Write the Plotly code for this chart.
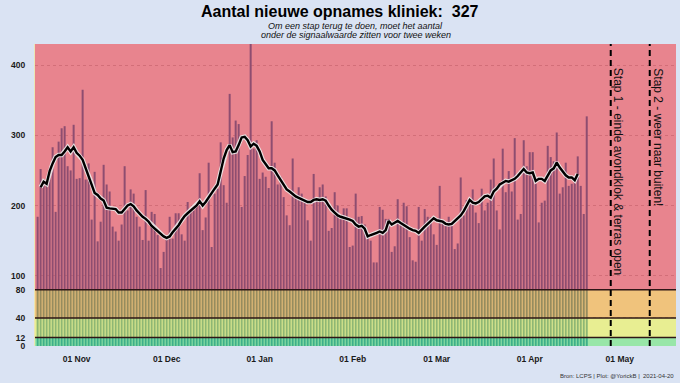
import pandas as pd
import plotly.graph_objects as go

# ---------------- data ----------------
FIRST_DAY = "2020-10-19"
admissions = [
    184, 252, 237, 232, 251, 283, 191, 291, 310, 313, 256, 250, 315, 238, 239, 365,
    237, 260, 180, 248, 149, 177, 258, 230, 220, 170, 163, 150, 173, 256, 193, 223,
    217, 184, 170, 151, 222, 150, 191, 188, 158, 111, 134, 155, 184,
    153, 189, 189, 159, 150, 205, 191, 193, 203, 246, 165, 183, 261, 141, 217, 224,
    290, 229, 204, 359, 297, 321, 316, 198, 242, 272, 431, 281, 293, 238, 247, 241,
    225, 320, 261, 230, 241, 212, 186, 172, 267, 213, 226, 217, 208, 179, 150,
    245, 210, 226, 230, 213, 164, 168, 219, 200, 186, 196, 196, 141, 143, 217, 184,
    185, 173, 155, 150, 119, 119, 198, 194, 181, 181, 134, 142, 209, 173, 204, 199,
    155, 122, 120, 198, 150, 195, 184, 183, 159, 144, 228, 177, 171,
    184, 174, 138, 146, 240, 186, 208, 210, 223, 190, 175, 224, 193, 204, 237, 267,
    193, 166, 281, 219, 249, 220, 296, 180, 188, 293, 256, 276, 276, 231, 176, 204,
    207, 285, 269, 263, 304, 217, 226, 261, 228, 231, 233, 270, 228, 188, 327,
]
avg7 = [
    None, 226, 234, 231, 249, 260, 269, 272, 272, 277, 283, 277, 283, 275, 271, 265,
    253, 244, 232, 218, 215, 210, 207, 197, 196, 196, 195, 190, 190, 195, 200, 202,
    199, 193, 188, 184, 181, 177, 171, 167, 164, 160, 156, 154, 156, 162,
    167, 172, 179, 185, 189, 193, 196, 200, 206, 200, 205, 212, 218, 224, 230, 248,
    267, 279, 286, 276, 277, 286, 297, 298, 293, 284, 288, 285, 277, 265, 259, 253,
    253, 250, 243, 236, 228, 223, 220, 216, 213, 211, 209, 207, 205, 205,
    208, 209, 208, 209, 207, 200, 194, 190, 186, 184, 183, 181, 180, 178, 173, 170,
    171, 167, 156, 158, 159, 161, 163, 161, 165, 178, 173, 175, 178, 175, 172, 170,
    167, 165, 164, 161, 166, 170, 174, 178, 182, 179, 178, 177, 174,
    173, 174, 178, 181, 186, 192, 199, 208, 204, 203, 205, 209, 213, 214, 211, 220,
    224, 230, 232, 235, 234, 236, 238, 242, 247, 252, 247, 246, 247, 235, 238, 238,
    235, 243, 250, 253, 261, 254, 248, 243, 240, 240, 236, 245, None, None, None,
]
thresholds = [12, 40, 80]
step_dates = ["2021-04-28", "2021-05-11"]
step_labels = ["Stap 1 - einde avondklok & terras open", "Stap 2 - weer naar buiten!"]
month_ticks = ["2020-11-01", "2020-12-01", "2021-01-01", "2021-02-01",
               "2021-03-01", "2021-04-01", "2021-05-01"]
y_ticks = [0, 12, 40, 80, 100, 200, 300, 400]
latest = admissions[-1]

dates = pd.date_range(FIRST_DAY, periods=len(admissions), freq="D")

# ---------------- style / layout constants ----------------
X0, X1 = "2020-10-18 03:00", "2021-05-19 18:00"
Y_MAX = 430
FONT = "Liberation Sans, Arial, Helvetica, sans-serif"
PAPER = "#dae3f3"
band_fill = ["rgba(83,213,110,0.6)", "rgba(217,227,73,0.6)",
             "rgba(230,155,37,0.6)", "rgba(217,50,67,0.6)"]

fig = go.Figure()

fig.add_trace(go.Bar(x=dates, y=admissions, marker=dict(color="#1f77b4", line_width=0),
                     hoverinfo="skip", showlegend=False))

edges = [0] + thresholds + [Y_MAX]
for i in range(len(edges) - 1):
    lo, hi = edges[i], edges[i + 1]
    fig.add_trace(go.Scatter(x=[X0, X1, X1, X0, X0], y=[lo, lo, hi, hi, lo],
                             mode="lines", line=dict(width=0), fill="toself",
                             fillcolor=band_fill[i], hoverinfo="skip", showlegend=False))

fig.add_trace(go.Scatter(x=dates, y=avg7, mode="lines",
                         line=dict(color="rgba(235,235,235,0.9)", width=4.6),
                         hoverinfo="skip", showlegend=False))
fig.add_trace(go.Scatter(x=dates, y=avg7, mode="lines",
                         line=dict(color="black", width=2.4),
                         hoverinfo="skip", showlegend=False))

for t in thresholds:
    fig.add_shape(type="line", xref="paper", x0=0, x1=1, yref="y", y0=t, y1=t,
                  line=dict(color="#2e1616", width=1.5), layer="above")

for d, lab, xs in zip(step_dates, step_labels, [8, 8]):
    fig.add_shape(type="line", xref="x", x0=d, x1=d, yref="paper", y0=0, y1=1,
                  line=dict(color="black", width=2, dash="6px,4px"), layer="above")
    fig.add_annotation(x=d, xref="x", xshift=xs, y=0.927, yref="paper",
                       xanchor="center", yanchor="top", text=lab, textangle=90,
                       showarrow=False, font=dict(family=FONT, size=12, color="#111111"))

fig.add_annotation(x=0.476, xref="paper", y=1.106, yref="paper", xanchor="center",
                   yanchor="middle", showarrow=False,
                   text=f"Aantal nieuwe opnames kliniek:  {latest}",
                   font=dict(family=FONT, size=16, color="black", weight="bold"))
fig.add_annotation(x=0.5, xref="paper", y=1.0605, yref="paper", xanchor="center",
                   yanchor="middle", showarrow=False,
                   text="<i>Om een stap terug te doen, moet het aantal</i>",
                   font=dict(family=FONT, size=9, color="#111111"))
fig.add_annotation(x=0.5, xref="paper", y=1.031, yref="paper", xanchor="center",
                   yanchor="middle", showarrow=False,
                   text="<i>onder de signaalwaarde zitten voor twee weken</i>",
                   font=dict(family=FONT, size=9, color="#111111"))
fig.add_annotation(x=1, xref="paper", y=-0.1008, yref="paper", xanchor="right",
                   yanchor="middle", showarrow=False,
                   text="Bron: LCPS | Plot: @YorickB |  2021-04-20",
                   font=dict(family=FONT, size=6, color="#333333"))

fig.update_layout(
    width=680, height=383,
    margin=dict(l=35, r=4, t=44, b=37),
    paper_bgcolor=PAPER, plot_bgcolor="white",
    bargap=0.33, showlegend=False,
    xaxis=dict(type="date", range=[X0, X1], tickvals=month_ticks, tickformat="%d %b",
               ticks="outside", ticklen=5, tickcolor="rgba(0,0,0,0)",
               showgrid=False, zeroline=False, showline=False,
               tickfont=dict(family=FONT, size=8.5, color="#1a1a1a", weight="bold")),
    yaxis=dict(range=[0, Y_MAX], tickvals=y_ticks, ticks="outside", ticklen=7,
               tickcolor="rgba(0,0,0,0)", showgrid=True, gridcolor="#c8c8c8",
               griddash="dot", gridwidth=1, zeroline=False,
               showline=True, linecolor="#ece6b4", linewidth=1,
               tickfont=dict(family=FONT, size=8.5, color="#1a1a1a", weight="bold")),
)

fig.write_html("out.html", config={"displayModeBar": False},
               post_script="document.body.style.margin='0px';"
                           "document.body.style.overflow='hidden';")
